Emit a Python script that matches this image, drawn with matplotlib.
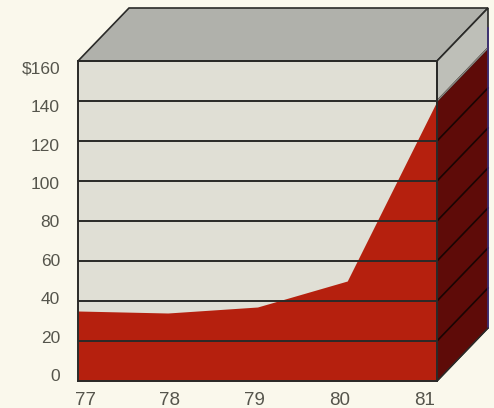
import matplotlib
matplotlib.use('Agg')
import matplotlib.pyplot as plt
from matplotlib.patches import Polygon

years = [77, 78, 79, 80, 81]
values = [35, 34, 37, 50, 140]
grid_levels = [20, 40, 60, 80, 100, 120, 140]
y_labels = ['0', '20', '40', '60', '80', '100', '120', '140', '$160']
x_labels = ['77', '78', '79', '80', '81']

paper = '#faf8ec'
face = '#e0dfd5'
top_col = '#b0b1ab'
side_col = '#bebfb8'
red = '#b5200e'
dark_red = '#5e0b08'
line_col = '#2a2a28'
text_col = '#55554c'

W, H = 494, 408
fig = plt.figure(figsize=(W / 100, H / 100), dpi=100, facecolor=paper)
# front face of the box, in pixel terms
ax = fig.add_axes([78 / W, 27 / H, 359 / W, 320 / H])
ax.set_xlim(77, 81)
ax.set_ylim(0, 160)
ax.set_facecolor(face)

# depth of the box, converted to data units
dx = 51 / (359 / 4)
dy = 53 / (320 / 160)

ax.fill_between(years, 0, values, color=red, lw=0, zorder=2)
ax.hlines(grid_levels, 77, 81, color=line_col, lw=1.4, zorder=3)

# top face
top = Polygon([(77, 160), (81, 160), (81 + dx, 160 + dy), (77 + dx, 160 + dy)],
              closed=True, facecolor=top_col, edgecolor=line_col, lw=1.2,
              clip_on=False, zorder=4)
ax.add_patch(top)

# right side face: gray above, dark red below the last value
last = values[-1]
side = Polygon([(81, 0), (81 + dx, dy), (81 + dx, 160 + dy), (81, 160)],
               closed=True, facecolor=side_col, edgecolor=line_col, lw=1.2,
               clip_on=False, zorder=4)
ax.add_patch(side)
side_red = Polygon([(81, 0), (81 + dx, dy), (81 + dx, last + dy), (81, last)],
                   closed=True, facecolor=dark_red, edgecolor='none',
                   clip_on=False, zorder=5)
ax.add_patch(side_red)
for g in grid_levels:
    ax.plot([81, 81 + dx], [g, g + dy], color='#1a0503', lw=1.2,
            clip_on=False, zorder=6)
ax.plot([81, 81 + dx], [last, last + dy], color='#8a8a84', lw=1.0,
        clip_on=False, zorder=6)
ax.plot([81 + dx, 81 + dx], [dy, last + dy + 10], color='#3d2f7a', lw=1.2,
        clip_on=False, zorder=6)
ax.plot([81, 81 + dx], [0, dy], color=line_col, lw=1.0,
        clip_on=False, zorder=6)

for s in ax.spines.values():
    s.set_color(line_col)
    s.set_linewidth(1.4)
    s.set_zorder(7)

# labels sit a little off the gridlines, slightly compressed
ax.set_yticks([3 + i * 19.2 for i in range(len(y_labels))])
ax.set_yticklabels(y_labels)
ax.set_xticks([77.08 + i * 0.945 for i in range(len(x_labels))])
ax.set_xticklabels(x_labels)
ax.tick_params(length=0, labelcolor=text_col)
ax.tick_params(axis='y', pad=13, labelsize=12.5)
ax.tick_params(axis='x', pad=8, labelsize=13.5)
for lab in ax.get_xticklabels() + ax.get_yticklabels():
    lab.set_fontfamily('Liberation Sans')

fig.savefig('out.png', dpi=100, facecolor=paper)
